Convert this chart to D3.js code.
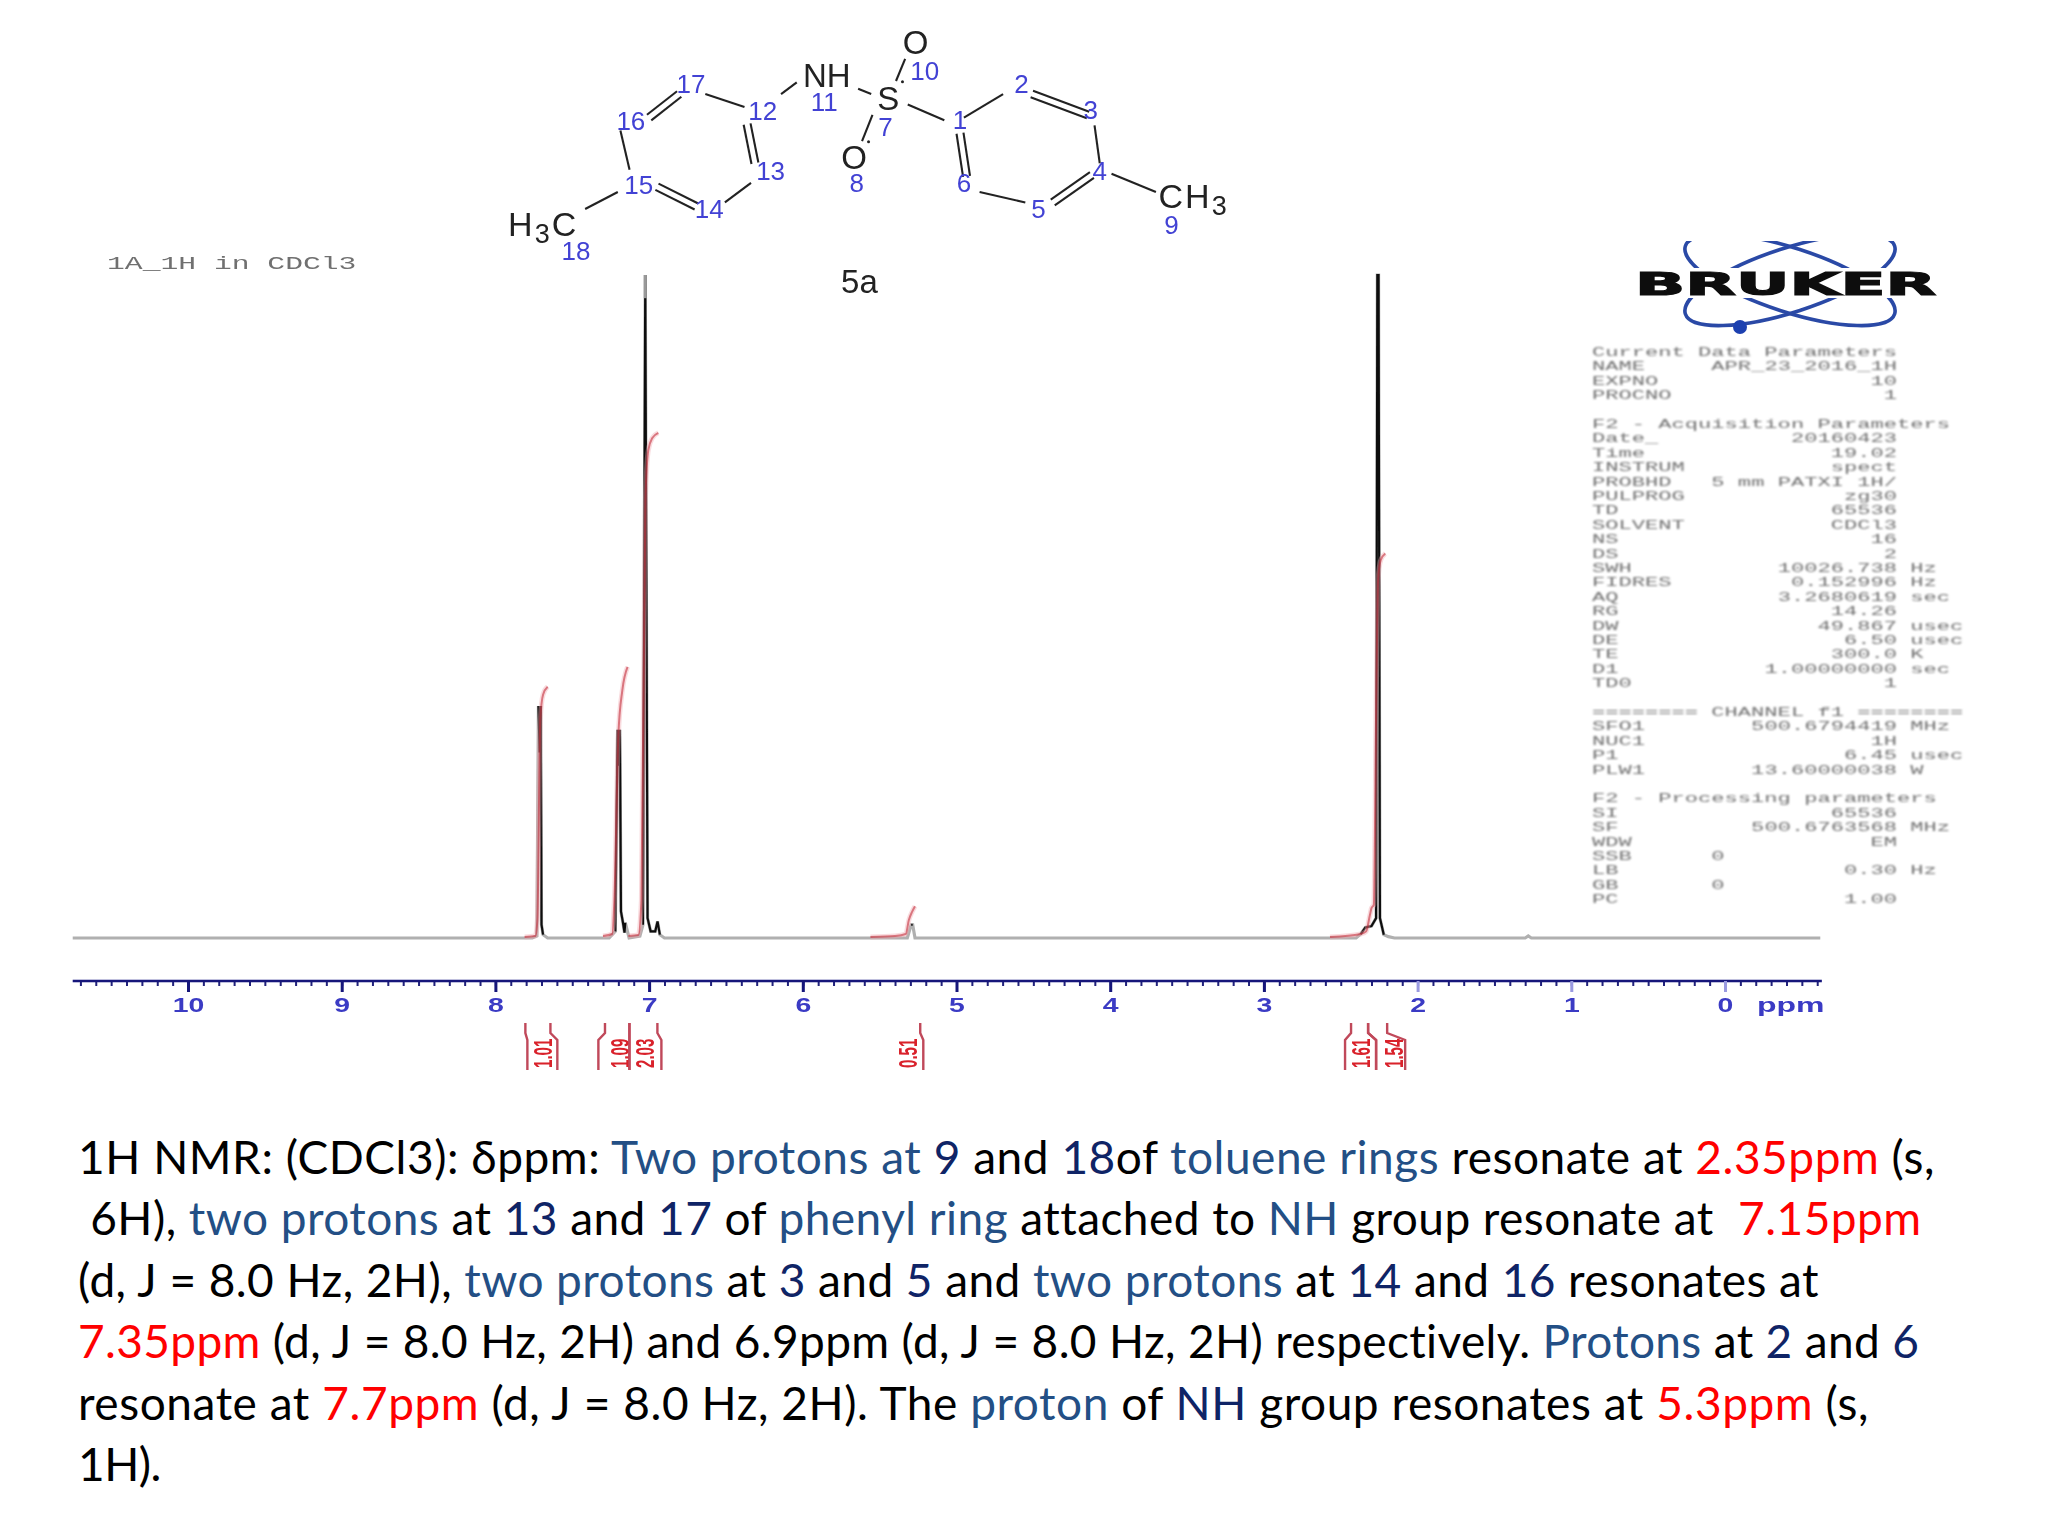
<!DOCTYPE html>
<html>
<head>
<meta charset="utf-8">
<script src="https://cdnjs.cloudflare.com/ajax/libs/d3/7.8.5/d3.min.js"></script>
<style>
body { margin: 0; background: #fff; }
svg { display: block; }
</style>
</head>
<body>
<script>
// spectrum trace, ppm / relative intensity
var specPpm = [10.75,7.76,7.73,7.72,7.712,7.705,7.70,7.69,7.66,7.26,7.22,7.205,7.197,7.19,7.183,7.17,7.16,7.155,7.13,7.06,7.04,7.025,7.01,6.99,6.96,6.945,6.93,6.90,5.32,5.295,5.285,5.27,2.40,2.37,2.34,2.30,2.27,2.262,2.254,2.245,2.22,2.19,2.15,1.30,1.28,1.26,-0.62];
var specInt = [0,0,0.3,35,28,35,2,0.5,0,0,1,31.4,26,31.4,4,2.3,0.8,2.3,0,0.3,2,100,3,1,1,2.5,0.5,0,0,2,2,0,0,0.6,1.6,1.8,3,100,100,3,0.5,0.2,0,0,0.3,0,0];

// integral curves
var integralPpm = [
  [7.81,7.74,7.727,7.708,7.69,7.66],
  [7.30,7.24,7.226,7.20,7.174,7.14],
  [7.135,7.07,7.05,7.024,7.005,6.979,6.94],
  [5.56,5.40,5.33,5.31,5.29,5.27],
  [2.57,2.37,2.335,2.31,2.30,2.285,2.268,2.257,2.24,2.21]
];
var integralInt = [
  [0.15,0.3,2.7,32.9,36.7,37.9],
  [0.3,0.6,5.7,30.6,37.4,40.9],
  [0.3,0.45,5.7,66,73.6,75.4,76.2],
  [0.15,0.3,0.6,2.7,3.9,4.8],
  [0.15,0.6,1,3.5,4.5,5,38,54,57,58]
];

// integral brackets under the axis
var intLabels = ["1.01","1.09","2.03","0.51","1.61","1.54"];
var intLabelPpm = [7.688,7.19,7.024,5.314,2.367,2.153];
var intTickL = [7.805,7.287,7.128,null,2.433,2.322];
var intBarL  = [7.792,7.330,7.128,null,2.472,2.270];
var intTickR = [7.642,7.128,6.946,5.236,2.322,2.198];
var intBarR  = [7.597,7.128,6.920,5.216,2.270,2.081];

var majorTicks = [10,9,8,7,6,5,4,3,2,1,0];

// acquisition parameters, "" = blank row
var paramNames = ["Current Data Parameters","NAME","EXPNO","PROCNO","",
  "F2 - Acquisition Parameters","Date_","Time","INSTRUM","PROBHD","PULPROG","TD","SOLVENT","NS","DS","SWH","FIDRES","AQ","RG","DW","DE","TE","D1","TD0","",
  "======== CHANNEL f1 ========","SFO1","NUC1","P1","PLW1","",
  "F2 - Processing parameters","SI","SF","WDW","SSB","LB","GB","PC"];
var paramValues = ["","APR_23_2016_1H","10","1","",
  "","20160423","19.02","spect","5 mm PATXI 1H/","zg30","65536","CDCl3","16","2","10026.738","0.152996","3.2680619","14.26","49.867","6.50","300.0","1.00000000","1","",
  "","500.6794419","1H","6.45","13.60000038","",
  "","65536","500.6763568","EM","0","0.30","0","1.00"];
var paramUnits = ["","","","","",
  "","","","","","","","","","","Hz","Hz","sec","","usec","usec","K","sec","","",
  "","MHz","","usec","W","",
  "","","MHz","","","Hz","",""];

// body text, one list of [text, kind] per line
var bodyLines = [
  [["1H NMR: (CDCl3): δppm: ","k"],["Two protons at ","b"],["9","n"],[" and ","k"],["18","n"],["of ","k"],["toluene rings","b"],[" resonate at ","k"],["2.35ppm","r"],[" (s,","k"]],
  [[" 6H), ","k"],["two protons","b"],[" at ","k"],["13","n"],[" and ","k"],["17","n"],[" of ","k"],["phenyl ring","b"],[" attached to ","k"],["NH","b"],[" group resonate at  ","k"],["7.15ppm","r"]],
  [["(d, J = 8.0 Hz, 2H), ","k"],["two protons","b"],[" at ","k"],["3","n"],[" and ","k"],["5","n"],[" and ","k"],["two protons","b"],[" at ","k"],["14","n"],[" and ","k"],["16","n"],[" resonates at","k"]],
  [["7.35ppm","r"],[" (d, J = 8.0 Hz, 2H) and 6.9ppm (d, J = 8.0 Hz, 2H) respectively. ","k"],["Protons","b"],[" at ","k"],["2","n"],[" and ","k"],["6","n"]],
  [["resonate at ","k"],["7.7ppm","r"],[" (d, J = 8.0 Hz, 2H). The ","k"],["proton","b"],[" of ","k"],["NH","n"],[" group resonates at ","k"],["5.3ppm","r"],[" (s,","k"]],
  [["1H).","k"]]
];
var bodyEnds = [1935,1920,1819,1920,1869,161];

// molecule, in the coordinates of a 1568 wide picture; last field 1 single, 2 double, 3 single with dot
var bonds = [
  [695,80,723,92,1],[738,90,768,72,1],[790,72,833,88,2],[838,96,842,125,1],[836,134,806,155,2],[785,155,750,147,1],[735,102,740,135,2],[851,133,885,147,1],
  [598,72,610,63,1],[540,72,570,82,1],[497,90,520,72,2],[475,100,482,130,1],[503,143,533,158,2],[555,155,575,140,1],[572,95,578,125,2],[473,147,448,160,1],
  [657,68,667,72,1],[693,45,686,62,3],[668,88,660,108,3]
];
var atomNumbers = [["1",735,92],["2",782,64],["3",835,84],["4",842,131],["5",795,160],["6",738,140],["7",678,97],["8",656,140],["9",897,172],["10",708,54],
  ["11",631,78],["12",584,85],["13",590,131],["14",543,160],["15",489,142],["16",483,93],["17",529,64],["18",441,192]];
var atomLetters = [["O",701,33],["NH",633,58],["S",680,76],["O",654,121]];

var width = 2048, height = 1536;

var svg = d3.select("body").append("svg")
    .attr("width", width)
    .attr("height", height)
    .style("background", "#fff");

var defs = svg.append("defs");
defs.append("filter").attr("id", "soft").append("feGaussianBlur").attr("stdDeviation", 0.6);
defs.append("filter").attr("id", "softer").append("feGaussianBlur").attr("stdDeviation", 0.85);
defs.append("clipPath").attr("id", "logoClip").append("rect")
    .attr("x", 1670).attr("y", 241).attr("width", 240).attr("height", 100);

var x = d3.scaleLinear().domain([10, 0]).range([188, 1725]);
var y = d3.scaleLinear().domain([0, 100]).range([938, 275]);
var px = d3.scaleLinear().domain([0, 1568]).range([0, 2048]);

// spectrum
var trace = specPpm.map(function (p, i) { return [p, specInt[i]]; });
var line = d3.line().x(function (d) { return x(d[0]); }).y(function (d) { return y(d[1]); });
var spec = svg.append("g").attr("filter", "url(#soft)");

spec.append("path").datum(trace)
    .attr("d", line)
    .attr("fill", "none")
    .attr("stroke", "#b0b0b0")
    .attr("stroke-width", 3.2);

spec.append("path").datum(trace)
    .attr("d", line.defined(function (d) { return d[1] > 0.4; }))
    .attr("fill", "none")
    .attr("stroke", "#111")
    .attr("stroke-width", 2.2);

line.defined(function () { return true; });

// top of the 7 ppm line is paler
spec.append("path").datum([[7.025, 100], [7.025, 96.5]])
    .attr("d", line)
    .attr("stroke", "#999")
    .attr("stroke-width", 3);

// integral curves
var curve = d3.line().x(function (d) { return x(d[0]); }).y(function (d) { return y(d[1]); }).curve(d3.curveMonotoneX);
integralPpm.forEach(function (ps, i) {
    var pts = ps.map(function (p, j) { return [p, integralInt[i][j]]; });
    spec.append("path").datum(pts)
        .attr("d", curve)
        .attr("fill", "none")
        .attr("stroke", "#f0a8b0")
        .attr("stroke-opacity", 0.4)
        .attr("stroke-width", 5);
    spec.append("path").datum(pts)
        .attr("d", curve)
        .attr("fill", "none")
        .attr("stroke", "#c02030")
        .attr("stroke-opacity", 0.55)
        .attr("stroke-width", 2);
});

// axis
var minorTicks = d3.range(-6, 108).map(function (d) { return d / 10; });
var axisY = 981;

var axisG = svg.append("g").attr("transform", "translate(0," + axisY + ")").attr("filter", "url(#soft)");
axisG.append("g")
    .call(d3.axisBottom(x).tickValues(minorTicks).tickSize(5).tickFormat(""))
    .call(function (g) { g.select(".domain").remove(); })
    .selectAll("line").attr("stroke", "#20207a").attr("stroke-width", 2);

axisG.append("line")
    .attr("x1", x(10.75)).attr("x2", x(-0.63))
    .attr("stroke", "#14147a").attr("stroke-width", 2.6);

var major = axisG.append("g")
    .call(d3.axisBottom(x).tickValues(majorTicks).tickSize(11).tickFormat(d3.format("d")));
major.select(".domain").remove();
major.selectAll("line")
    .attr("stroke", function (d) { return d <= 2 ? "#9a9ae0" : "#14147a"; })
    .attr("stroke-width", 3);
major.selectAll("text")
    .attr("y", 0)
    .attr("dy", 0)
    .attr("transform", "translate(0,31) scale(1.42,1)")
    .attr("font-family", "Liberation Sans")
    .attr("font-weight", "bold")
    .attr("font-size", 20)
    .attr("fill", "#3a3ac4");

axisG.append("text")
    .attr("transform", "translate(1757,31) scale(1.6,1)")
    .attr("font-family", "Liberation Sans")
    .attr("font-weight", "bold")
    .attr("font-size", 20)
    .attr("fill", "#3a3ac4")
    .text("ppm");

// integral brackets
var brackets = svg.append("g").attr("filter", "url(#soft)");
var bTop = 1023, bElbow1 = 1033, bElbow2 = 1040, bBottom = 1070;
function bracketPath(tick, bar) {
    var p = d3.path();
    p.moveTo(x(tick), bTop);
    p.lineTo(x(tick), bElbow1);
    p.lineTo(x(bar), bElbow2);
    p.lineTo(x(bar), bBottom);
    return p.toString();
}
intLabels.forEach(function (lab, i) {
    [[intTickL[i], intBarL[i]], [intTickR[i], intBarR[i]]].forEach(function (s) {
        if (s[0] === null) return;
        brackets.append("path")
            .attr("d", bracketPath(s[0], s[1]))
            .attr("fill", "none")
            .attr("stroke", "#c0485a")
            .attr("stroke-width", 2.4);
    });
    brackets.append("text")
        .attr("transform", "translate(" + (x(intLabelPpm[i]) + 9) + ",1068) rotate(-90) scale(0.58,1)")
        .attr("font-family", "Liberation Sans")
        .attr("font-weight", "bold")
        .attr("font-size", 26)
        .attr("fill", "#d9202c")
        .text(lab);
});

// parameter listing
var charW = 13.26, listX = 1592, listY = 356, rowH = 14.4;
var list = svg.append("g").attr("filter", "url(#softer)").attr("fill", "#707070")
    .attr("font-family", "Liberation Mono").attr("font-size", 13);

function monoText(str, cx, cy, anchor) {
    list.append("text")
        .attr("transform", "translate(" + cx + "," + cy + ") scale(" + (charW / 7.8) + ",1)")
        .attr("text-anchor", anchor)
        .attr("xml:space", "preserve")
        .text(str);
}
paramNames.forEach(function (name, i) {
    var cy = listY + i * rowH;
    if (name) monoText(name, listX, cy, "start");
    if (paramValues[i]) {
        var endCol = (name === "SSB" || name === "GB") ? 10 : 23;
        monoText(paramValues[i], listX + endCol * charW, cy, "end");
    }
    if (paramUnits[i]) monoText(paramUnits[i], listX + 24 * charW, cy, "start");
});

svg.append("g").attr("filter", "url(#soft)").append("text")
    .attr("transform", "translate(107,269) scale(1.65,1)")
    .attr("font-family", "Liberation Mono")
    .attr("font-size", 18)
    .attr("fill", "#707070")
    .text("1A_1H in CDCl3");

// logo
var logo = svg.append("g").attr("filter", "url(#soft)");
var orbits = logo.append("g").attr("clip-path", "url(#logoClip)");
[-18, 18].forEach(function (a) {
    orbits.append("ellipse")
        .attr("transform", "translate(1790,280) rotate(" + a + ")")
        .attr("rx", 110).attr("ry", 32)
        .attr("fill", "none")
        .attr("stroke", "#2b4aa6")
        .attr("stroke-width", 3.6);
});
logo.append("circle").attr("cx", 1740).attr("cy", 327).attr("r", 7).attr("fill", "#1f3fb0");
logo.append("rect").attr("x", 1635).attr("y", 268).attr("width", 320).attr("height", 30).attr("fill", "#fff");
logo.append("text")
    .attr("transform", "translate(1635,295) scale(2.06,1)")
    .attr("font-family", "DejaVu Sans")
    .attr("font-weight", "bold")
    .attr("font-size", 32)
    .attr("fill", "#0a0a0a")
    .attr("stroke", "#0a0a0a")
    .attr("stroke-width", 1.2)
    .text("BRUKER");

// molecule
var mol = svg.append("g").attr("filter", "url(#soft)");
bonds.forEach(function (b) {
    var x1 = px(b[0]), y1 = px(b[1]), x2 = px(b[2]), y2 = px(b[3]);
    var offs = b[4] === 2 ? [-3.5, 3.5] : [0];
    var len = Math.hypot(x2 - x1, y2 - y1), nx = -(y2 - y1) / len, ny = (x2 - x1) / len;
    offs.forEach(function (o) {
        mol.append("line")
            .attr("x1", x1 + nx * o).attr("y1", y1 + ny * o)
            .attr("x2", x2 + nx * o).attr("y2", y2 + ny * o)
            .attr("stroke", "#222").attr("stroke-width", 2.1);
    });
    if (b[4] === 3) {
        // the second line of S=O shows only as a dot
        mol.append("circle")
            .attr("cx", x2 + Math.abs(nx) * 7).attr("cy", y2 + Math.abs(ny) * 2)
            .attr("r", 1.5)
            .attr("fill", "#222");
    }
});
atomLetters.forEach(function (a) {
    mol.append("text")
        .attr("x", px(a[1])).attr("y", px(a[2]) + 11)
        .attr("text-anchor", "middle")
        .attr("font-family", "Liberation Sans")
        .attr("font-size", 33)
        .attr("fill", "#222")
        .text(a[0]);
});
atomNumbers.forEach(function (a) {
    mol.append("text")
        .attr("x", px(a[1])).attr("y", px(a[2]) + 9)
        .attr("text-anchor", "middle")
        .attr("font-family", "Liberation Sans")
        .attr("font-size", 26)
        .attr("fill", "#4242d4")
        .text(a[0]);
});
function formula(parts, tx, ty) {
    var t = mol.append("text").attr("x", tx).attr("y", ty)
        .attr("font-family", "Liberation Sans").attr("font-size", 34)
        .attr("letter-spacing", 2).attr("fill", "#222");
    parts.forEach(function (p) {
        var s = t.append("tspan").text(p[0]);
        if (p[1]) s.attr("dy", p[1]).attr("font-size", p[1] > 0 ? 27 : 34);
    });
}
formula([["H"], ["3", 7], ["C", -7]], px(389), px(172) + 11);
formula([["CH"], ["3", 7]], px(887), px(151) + 11);

svg.append("text")
    .attr("x", px(658)).attr("y", px(216) + 11)
    .attr("text-anchor", "middle")
    .attr("font-family", "Liberation Sans")
    .attr("font-size", 33)
    .attr("fill", "#222")
    .attr("filter", "url(#soft)")
    .text("5a");

// body text
var kindColor = { k: "#000000", b: "#234f85", n: "#0f2466", r: "#ff0000" };
var firstBase = 1174, lineStep = 61.4;
bodyLines.forEach(function (runs, i) {
    var t = svg.append("text")
        .attr("x", 78)
        .attr("y", firstBase + i * lineStep)
        .attr("font-family", "Lato")
        .attr("font-size", 46)
        .attr("xml:space", "preserve");
    runs.forEach(function (r) {
        t.append("tspan").attr("fill", kindColor[r[1]]).text(r[0]);
    });
    var n = t.node().getNumberOfChars();
    var spare = bodyEnds[i] - 78 - t.node().getComputedTextLength();
    t.attr("letter-spacing", (spare / n) + "px");
});
</script>
</body>
</html>
